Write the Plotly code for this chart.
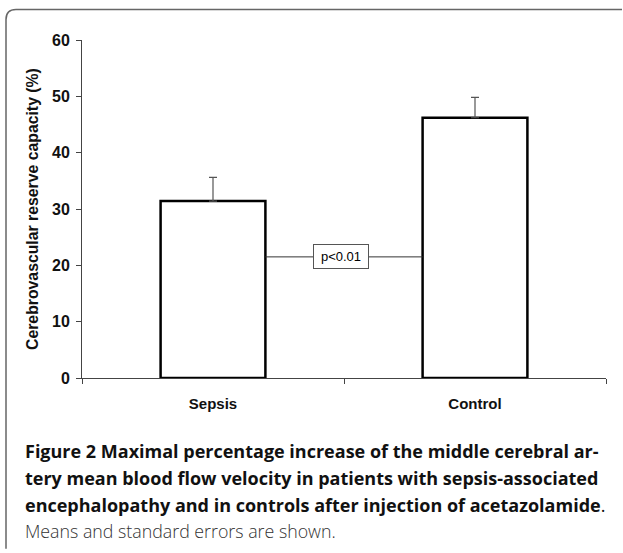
import plotly.graph_objects as go

# ---- data ----
categories = ["Sepsis", "Control"]
means = [31.4, 46.2]
std_errors = [4.2, 3.6]
p_label = "p<0.01"
p_level = 21.5
y_ticks = [0, 10, 20, 30, 40, 50, 60]
y_title = "Cerebrovascular reserve capacity (%)"
caption_lines = [
    "Figure 2 Maximal percentage increase of the middle cerebral ar-",
    "tery mean blood flow velocity in patients with sepsis-associated",
    "encephalopathy and in controls after injection of acetazolamide",
]
caption_last = "Means and standard errors are shown."

W, H = 623, 553
L, R, T, B = 82, 17, 39.5, 175
pw, ph = W - L - R, H - T - B


def px(x):
    return (x - L) / pw


def py(y):
    return (H - B - y) / ph


AX = "Liberation Sans, Arial, sans-serif"
CAP = "Open Sans, Noto Sans, sans-serif"

fig = go.Figure()
fig.add_trace(go.Bar(
    x=categories, y=means, width=0.4,
    marker=dict(color="white", line=dict(color="black", width=2.5)),
    error_y=dict(type="data", array=std_errors, arrayminus=[0, 0], symmetric=False,
                 color="#555", thickness=1.2, width=4),
    showlegend=False, hoverinfo="skip",
))

# significance line between bars
fig.add_shape(type="line", xref="x", yref="y", x0=0.2, x1=0.8, y0=p_level, y1=p_level,
              line=dict(color="#333", width=1), layer="above")
fig.add_annotation(x=0.487, y=p_level, xref="x", yref="y", text=p_label, showarrow=False,
                   xanchor="center", yanchor="middle",
                   font=dict(family=AX, size=13, color="black"),
                   bgcolor="white", bordercolor="#555", borderwidth=1, borderpad=2,
                   width=50, height=19)

# y axis title
fig.add_annotation(x=px(32), y=0.5, xref="paper", yref="paper", text=y_title, textangle=-90,
                   xanchor="center", yanchor="middle",
                   showarrow=False, font=dict(family=AX, size=15.8, color="#111", weight="bold"))

# frame (rounded top-left corner)
x6, x16, x622 = px(6), px(16), px(622)
y549, y19, y9 = py(549), py(19), py(9)
fig.add_shape(type="path", xref="paper", yref="paper",
              path=f"M {x6},{y549} L {x6},{y19} Q {x6},{y9} {x16},{y9} L {x622},{y9}",
              line=dict(color="#666", width=1.5))

# caption
cap_y = [451, 478, 505]
for i, line in enumerate(caption_lines):
    txt = f"<span style='font-weight:700'>{line}</span>" + ("." if i == 2 else "")
    fig.add_annotation(x=px(23), y=py(cap_y[i]), xref="paper", yref="paper", text=txt,
                       showarrow=False, xanchor="left", yanchor="middle",
                       font=dict(family=CAP, size=18, color="#111"))
fig.add_annotation(x=px(23), y=py(531), xref="paper", yref="paper", text=caption_last,
                   showarrow=False, xanchor="left", yanchor="middle",
                   font=dict(family=CAP, size=17.8, color="#333", weight=300))

fig.update_layout(
    width=W, height=H, margin=dict(l=L, r=R, t=T, b=B, pad=0),
    paper_bgcolor="white", plot_bgcolor="white",
    bargap=0.6,
)
fig.update_xaxes(range=[-0.5, 1.5], showline=True, linecolor="#444", linewidth=1,
                 ticks="outside", tickson="boundaries", ticklen=5, tickcolor="#444",
                 tickfont=dict(family=AX, size=15, color="#111", weight="bold"),
                 ticklabelstandoff=12, showgrid=False)
fig.update_yaxes(range=[0, 60], tickvals=y_ticks, showline=True, linecolor="#444", linewidth=1,
                 ticks="outside", ticklen=5, tickcolor="#444",
                 tickfont=dict(family=AX, size=16, color="#111", weight="bold"),
                 ticklabelstandoff=3, showgrid=False, zeroline=False)

fig.write_html("out.html", config={"displayModeBar": False},
               post_script="document.body.style.margin='0';")
